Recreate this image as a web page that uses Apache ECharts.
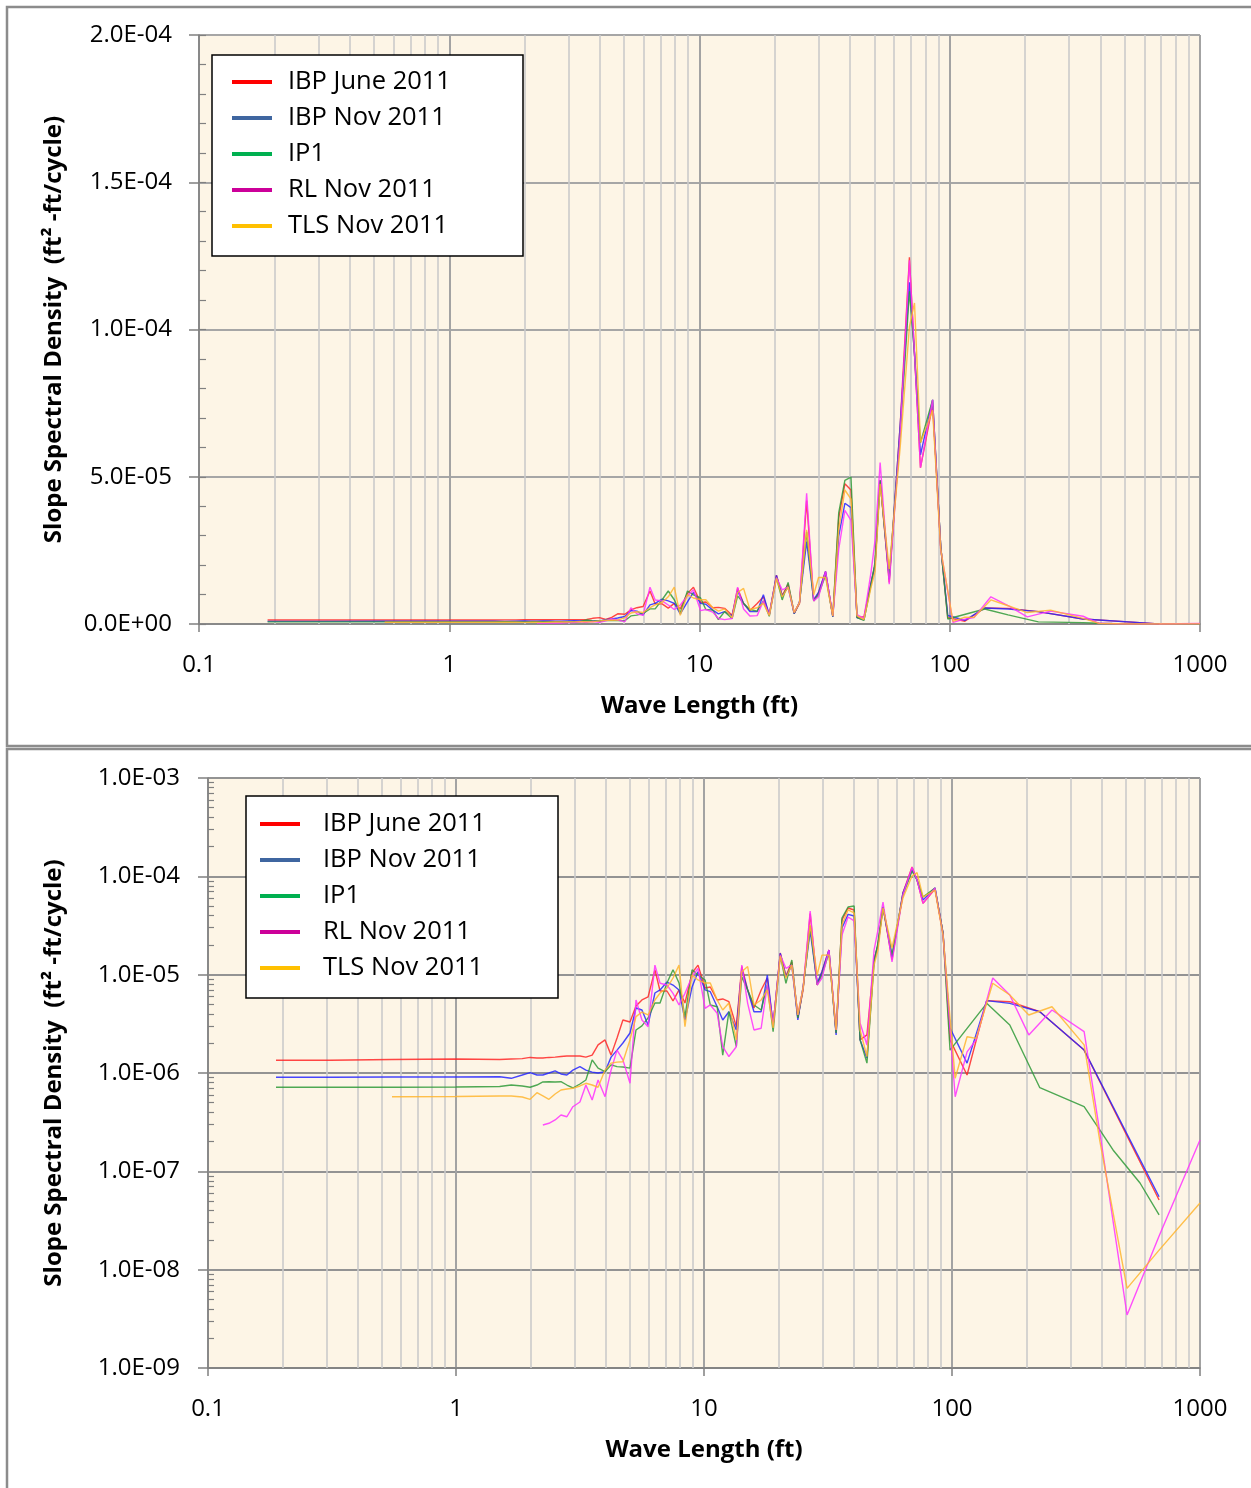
<!DOCTYPE html>
<html>
<head>
<meta charset="utf-8">
<title>Slope Spectral Density vs Wave Length</title>
<script src="https://cdn.jsdelivr.net/npm/echarts@6/dist/echarts.min.js"></script>
<style>
  html, body { margin: 0; padding: 0; background: #ffffff; }
  #chart { width: 1251px; height: 1488px; }
</style>
</head>
<body>
<div id="chart"></div>
<script>
// Wave length (ft) of each spectral estimate
const wavelength = [
  0.188, 0.31, 0.552, 1.0, 1.5, 1.67, 1.85, 1.99, 2.12, 2.24,
  2.37, 2.51, 2.65, 2.8, 2.96, 3.16, 3.34, 3.54, 3.74, 3.99,
  4.22, 4.46, 4.71, 5.03, 5.32, 5.62, 5.95, 6.34, 6.65, 7.09,
  7.5, 7.93, 8.38, 8.95, 9.46, 10.1, 10.6, 11.3, 11.9, 12.6,
  13.5, 14.2, 15.0, 15.9, 17.0, 18.0, 19.0, 20.3, 21.4, 22.6,
  23.9, 25.1, 26.8, 28.6, 29.9, 31.9, 34.1, 36.0, 38.1, 40.3,
  42.6, 45.4, 48.5, 50.3, 52.7, 57.3, 63.4, 69.0, 72.3, 76.4,
  85.4, 92.0, 98.2, 103, 115, 125, 138, 146, 171, 204,
  226, 253, 341, 395, 446, 508, 573, 684, 1000
];

// Slope spectral density (ft^2-ft/cycle); null = no estimate at that wave length
const ibpJune2011 = [
  1.35e-6, 1.35e-6, 1.37e-6, 1.39e-6, 1.37e-6, 1.39e-6, 1.40e-6, 1.44e-6, 1.42e-6, 1.42e-6,
  1.44e-6, 1.45e-6, 1.47e-6, 1.49e-6, 1.49e-6, 1.49e-6, 1.45e-6, 1.52e-6, 1.93e-6, 2.17e-6,
  1.52e-6, 2.27e-6, 3.46e-6, 3.30e-6, 4.80e-6, 5.53e-6, 5.93e-6, 1.12e-5, 6.82e-6, 6.82e-6,
  5.40e-6, 6.99e-6, 5.15e-6, 1.04e-5, 1.25e-5, 7.32e-6, 7.49e-6, 5.53e-6, 5.66e-6, 5.31e-6,
  2.96e-6, 1.21e-5, 6.99e-6, 4.58e-6, 6.99e-6, 9.25e-6, 3.08e-6, 1.66e-5, 9.69e-6, 1.35e-5,
  3.63e-6, 6.99e-6, 4.19e-5, 7.85e-6, 1.07e-5, 1.78e-5, 2.55e-6, 3.60e-5, 4.76e-5, 4.55e-5,
  2.17e-6, 2.44e-6, 1.41e-5, 2.00e-5, 4.88e-5, 1.41e-5, 6.77e-5, 1.245e-4, 9.18e-5, 5.31e-5,
  7.43e-5, 2.65e-5, 2.17e-6, null, 9.54e-7, null, 5.44e-6, null, 5.31e-6, null,
  4.20e-6, null, 1.71e-6, null, null, null, null, 5.11e-8, null
];
const ibpNov2011 = [
  9.04e-7, 9.04e-7, 9.11e-7, 9.11e-7, 9.17e-7, 8.83e-7, 9.54e-7, 1.01e-6, 9.54e-7, 9.54e-7,
  1.00e-6, 1.05e-6, 9.77e-7, 9.54e-7, 1.07e-6, 1.16e-6, 1.07e-6, 1.02e-6, 1.00e-6, 1.03e-6,
  1.45e-6, 1.71e-6, 2.02e-6, 2.55e-6, 4.58e-6, 4.37e-6, 3.08e-6, 6.51e-6, 6.99e-6, 8.42e-6,
  7.85e-6, 6.99e-6, 3.46e-6, 7.49e-6, 1.07e-5, 6.99e-6, 6.71e-6, 4.72e-6, 3.46e-6, 4.20e-6,
  2.74e-6, 1.12e-5, 6.99e-6, 4.20e-6, 4.20e-6, 9.92e-6, 3.08e-6, 1.65e-5, 9.54e-6, 1.25e-5,
  3.46e-6, 7.54e-6, 2.80e-5, 8.17e-6, 1.07e-5, 1.78e-5, 2.44e-6, 2.98e-5, 4.10e-5, 3.95e-5,
  2.17e-6, 1.42e-6, 1.41e-5, 2.00e-5, 4.88e-5, 1.51e-5, 6.77e-5, 1.16e-4, 9.18e-5, 5.74e-5,
  7.61e-5, 2.65e-5, 2.87e-6, null, 1.26e-6, null, 5.44e-6, null, 5.11e-6, null,
  4.20e-6, null, 1.71e-6, null, null, null, null, 5.52e-8, null
];
const ip1 = [
  7.16e-7, 7.16e-7, 7.16e-7, 7.21e-7, 7.29e-7, 7.55e-7, 7.38e-7, 7.16e-7, 7.55e-7, 8.10e-7,
  8.16e-7, 8.10e-7, 8.16e-7, 7.55e-7, 7.04e-7, 7.73e-7, 8.49e-7, 1.36e-6, 1.12e-6, 1.03e-6,
  1.21e-6, 1.16e-6, 1.15e-6, 1.12e-6, 2.74e-6, 3.01e-6, 3.63e-6, 5.15e-6, 5.15e-6, 8.23e-6,
  1.12e-5, 8.23e-6, 3.74e-6, 1.12e-5, 9.92e-6, 8.83e-6, 4.92e-6, 4.72e-6, 1.52e-6, 4.20e-6,
  1.85e-6, 9.54e-6, 6.99e-6, 4.92e-6, 4.37e-6, 7.85e-6, 2.63e-6, 1.58e-5, 8.17e-6, 1.41e-5,
  3.63e-6, 7.32e-6, 3.13e-5, 7.85e-6, 9.92e-6, 1.66e-5, 2.55e-6, 3.77e-5, 4.88e-5, 4.99e-5,
  2.17e-6, 1.26e-6, 1.35e-5, 2.10e-5, 4.88e-5, 1.58e-5, 6.46e-5, 1.13e-4, 9.18e-5, 6.16e-5,
  7.61e-5, 2.65e-5, 1.71e-6, null, null, null, 5.11e-6, null, 3.08e-6, null,
  7.09e-7, null, 4.54e-7, 2.63e-7, 1.65e-7, null, 7.61e-8, 3.60e-8, null
];
const rlNov2011 = [
  null, null, null, null, null, null, null, null, null, 2.96e-7,
  3.08e-7, 3.33e-7, 3.74e-7, 3.59e-7, 4.54e-7, 5.07e-7, 7.55e-7, 5.32e-7, 8.49e-7, 5.74e-7,
  1.07e-6, 1.71e-6, 1.36e-6, 7.86e-7, 5.53e-6, 3.46e-6, 2.96e-6, 1.25e-5, 8.17e-6, 7.85e-6,
  6.46e-6, 4.92e-6, 6.46e-6, 9.54e-6, 1.16e-5, 4.55e-6, 4.92e-6, 4.05e-6, 1.85e-6, 1.47e-6,
  1.85e-6, 1.25e-5, 5.11e-6, 2.74e-6, 2.85e-6, 7.85e-6, 3.08e-6, 1.58e-5, 1.16e-5, 1.25e-5,
  3.89e-6, 7.32e-6, 4.44e-5, 7.85e-6, 9.25e-6, 1.78e-5, 2.74e-6, 2.53e-5, 3.86e-5, 3.52e-5,
  3.22e-6, 1.93e-6, 1.78e-5, 2.85e-5, 5.48e-5, 1.35e-5, 6.46e-5, 1.235e-4, 9.18e-5, 5.31e-5,
  7.61e-5, 2.53e-5, null, 5.74e-7, 1.64e-6, 2.17e-6, null, 9.25e-6, 6.21e-6, 2.44e-6,
  null, 4.37e-6, 2.63e-6, 2.45e-7, null, 3.46e-9, null, 2.20e-8, 2.08e-7
];
const tlsNov2011 = [
  null, null, 5.74e-7, 5.77e-7, 5.84e-7, 5.84e-7, 5.70e-7, 5.40e-7, 6.30e-7, 5.84e-7,
  5.40e-7, 6.12e-7, 6.72e-7, 6.88e-7, 6.99e-7, 7.38e-7, 7.86e-7, 7.55e-7, 7.16e-7, 1.07e-6,
  1.26e-6, 1.29e-6, 1.30e-6, 2.17e-6, 3.74e-6, 4.17e-6, 3.89e-6, 5.53e-6, 6.51e-6, 7.32e-6,
  9.25e-6, 1.25e-5, 2.96e-6, 9.92e-6, 8.83e-6, 8.23e-6, 8.23e-6, 5.53e-6, 4.37e-6, 5.15e-6,
  2.17e-6, 1.07e-5, 1.21e-5, 4.92e-6, 5.53e-6, 6.99e-6, 2.87e-6, 1.55e-5, 9.25e-6, 1.25e-5,
  3.89e-6, 7.32e-6, 3.20e-5, 9.92e-6, 1.58e-5, 1.58e-5, 2.74e-6, 3.20e-5, 4.55e-5, 4.24e-5,
  2.74e-6, 1.47e-6, 1.25e-5, 1.78e-5, 4.76e-5, 1.87e-5, 6.02e-5, 1.01e-4, 1.09e-4, 6.16e-5,
  7.26e-5, 2.53e-5, null, 8.83e-7, 2.34e-6, 2.25e-6, null, 8.17e-6, 6.21e-6, 3.89e-6,
  null, 4.72e-6, 1.93e-6, 2.00e-7, null, 6.46e-9, null, 1.58e-8, 4.76e-8
];

const seriesNames = ['IBP June 2011', 'IBP Nov 2011', 'IP1', 'RL Nov 2011', 'TLS Nov 2011'];
const seriesValues = [ibpJune2011, ibpNov2011, ip1, rlNov2011, tlsNov2011];

// Axis ranges and labels
const waveRange = [0.1, 1000];
const linearDensityRange = [0, 2e-4];
const linearDensityStep = 5e-5;
const linearDensityMinorStep = 1e-5;
const logDensityRange = [1e-9, 1e-3];
const xTitle = 'Wave Length (ft)';
const yTitle = 'Slope Spectral Density  (ft\u00B2 -ft/cycle)';

const lineColors = ['#ff2626', '#2626ff', '#2f9a38', '#ff30ff', '#ffb52e'];
const legendColors = ['#ff0000', '#3f66a0', '#00b050', '#cc0099', '#ffc000'];
const FONT = '"Open Sans", "Liberation Sans", sans-serif';

// 2..9 x 10^k positions for the minor grid of the log axes
const minorWave = [];
for (let k = -1; k <= 2; k++) for (let m = 2; m <= 9; m++) minorWave.push(Number((m * Math.pow(10, k)).toPrecision(2)));
const minorDensity = [];
for (let k = -9; k <= -4; k++) for (let m = 2; m <= 9; m++) minorDensity.push(Number((m * Math.pow(10, k)).toPrecision(2)));

function sci(v) {
  const parts = Number(v).toExponential(1).split('e');
  const n = Number(parts[1]);
  return parts[0] + 'E' + (n < 0 ? '-' : '+') + String(Math.abs(n)).padStart(2, '0');
}
function plain(v) {
  return String(Number(Number(v).toPrecision(6)));
}
function pairs(values) {
  const out = [];
  values.forEach((v, i) => { if (v != null) out.push([wavelength[i], v]); });
  return out;
}

const panels = [
  { grid: { left: 199, top: 35, width: 1001, height: 589 }, nameGap: 133,
    box: { x: 212, y: 55, width: 311, height: 201 }, legendLeft: 232, legendTop: 68, textPad: 11,
    hGrid: '#a6a6a6' },
  { grid: { left: 208, top: 778, width: 992, height: 590 }, nameGap: 142,
    box: { x: 246, y: 796, width: 312, height: 202 }, legendLeft: 260, legendTop: 810, textPad: 18,
    hGrid: '#939393' }
];

const axisGray = '#808080';
const tickText = { fontFamily: FONT, fontSize: 24, color: '#000' };
const titleText = { fontFamily: FONT, fontSize: 24, fontWeight: 'bold', color: '#000' };

const grids = panels.map(p => Object.assign({ show: true, backgroundColor: '#fdf5e6', borderWidth: 0 }, p.grid));

const xAxes = panels.map((p, i) => ({
  type: 'log', logBase: 10, gridIndex: i, min: waveRange[0], max: waveRange[1],
  name: xTitle, nameLocation: 'middle', nameGap: 70, nameTextStyle: titleText,
  axisLine: { show: true, lineStyle: { color: axisGray, width: 1.5 } },
  axisTick: { show: true, length: 8, lineStyle: { color: axisGray, width: 1.5 } },
  axisLabel: Object.assign({ margin: 29, formatter: plain }, tickText),
  splitLine: { show: true, lineStyle: { color: '#a3a3a3', width: 2 } }
}));

const yAxes = [
  { type: 'value', gridIndex: 0, min: linearDensityRange[0], max: linearDensityRange[1], interval: linearDensityStep,
    name: yTitle, nameLocation: 'middle', nameGap: panels[0].nameGap, nameTextStyle: titleText,
    axisLine: { show: true, lineStyle: { color: axisGray, width: 1.5 } },
    axisTick: { show: true, length: 10, lineStyle: { color: axisGray, width: 1.5 } },
    axisLabel: Object.assign({ margin: 27, formatter: sci }, tickText),
    splitLine: { show: true, lineStyle: { color: panels[0].hGrid, width: 2 } } },
  { type: 'value', gridIndex: 0, position: 'left', min: linearDensityRange[0], max: linearDensityRange[1],
    interval: linearDensityMinorStep,
    axisLine: { show: false }, axisLabel: { show: false }, splitLine: { show: false },
    axisTick: { show: true, inside: true, length: 7, lineStyle: { color: axisGray, width: 1.2 } } },
  { type: 'log', logBase: 10, gridIndex: 1, min: logDensityRange[0], max: logDensityRange[1],
    name: yTitle, nameLocation: 'middle', nameGap: panels[1].nameGap, nameTextStyle: titleText,
    axisLine: { show: true, lineStyle: { color: axisGray, width: 1.5 } },
    axisTick: { show: true, length: 10, lineStyle: { color: axisGray, width: 1.5 } },
    axisLabel: Object.assign({ margin: 28, formatter: sci }, tickText),
    splitLine: { show: true, lineStyle: { color: panels[1].hGrid, width: 2 } } },
  { type: 'log', logBase: 10, gridIndex: 1, position: 'left', min: logDensityRange[0], max: logDensityRange[1],
    axisLine: { show: false }, axisLabel: { show: false }, splitLine: { show: false },
    axisTick: { show: true, inside: true, length: 6, customValues: minorDensity,
                lineStyle: { color: axisGray, width: 1.2 } } }
];

const series = [];
panels.forEach((p, pi) => {
  // light vertical lines at 2..9 of every decade
  series.push({
    type: 'line', xAxisIndex: pi, yAxisIndex: pi * 2, data: [], silent: true,
    markLine: {
      silent: true, symbol: ['none', 'none'], z: 1, animation: false,
      label: { show: false },
      lineStyle: { color: '#cbcbcb', width: 1.6, type: 'solid' },
      emphasis: { disabled: true },
      data: minorWave.map(v => ({ xAxis: v }))
    }
  });
  seriesNames.forEach((name, si) => {
    series.push({
      type: 'line', name: name, xAxisIndex: pi, yAxisIndex: pi * 2,
      data: pairs(seriesValues[si]),
      symbol: 'none', z: 2,
      lineStyle: { color: lineColors[si], width: 1.4, opacity: 0.85 },
      itemStyle: { color: lineColors[si] },
      emphasis: { disabled: true }
    });
  });
});

const legends = panels.map(p => ({
  orient: 'vertical', left: p.legendLeft, top: p.legendTop, padding: 0,
  icon: 'rect', itemWidth: 40, itemHeight: 4, itemGap: 8, selectedMode: false, z: 11,
  textStyle: { fontFamily: FONT, fontSize: 25.5, color: '#000', lineHeight: 28, padding: [0, 0, 0, p.textPad] },
  data: seriesNames.map((n, i) => ({ name: n, itemStyle: { color: legendColors[i] } }))
}));

const graphics = [
  { type: 'rect', silent: true, z: 0, shape: { x: 7, y: 7, width: 1260, height: 739 },
    style: { fill: 'none', stroke: '#8c8c8c', lineWidth: 2.5 } },
  { type: 'rect', silent: true, z: 0, shape: { x: 7, y: 749, width: 1260, height: 760 },
    style: { fill: 'none', stroke: '#8c8c8c', lineWidth: 2.5 } }
].concat(panels.map(p => ({
  type: 'rect', silent: true, z: 10, shape: p.box,
  style: { fill: '#ffffff', stroke: '#000000', lineWidth: 1.5 }
})));

const chart = echarts.init(document.getElementById('chart'), null, { renderer: 'canvas' });
chart.setOption({
  animation: false,
  backgroundColor: '#ffffff',
  grid: grids,
  xAxis: xAxes,
  yAxis: yAxes,
  legend: legends,
  graphic: { elements: graphics },
  series: series
});
</script>
</body>
</html>
